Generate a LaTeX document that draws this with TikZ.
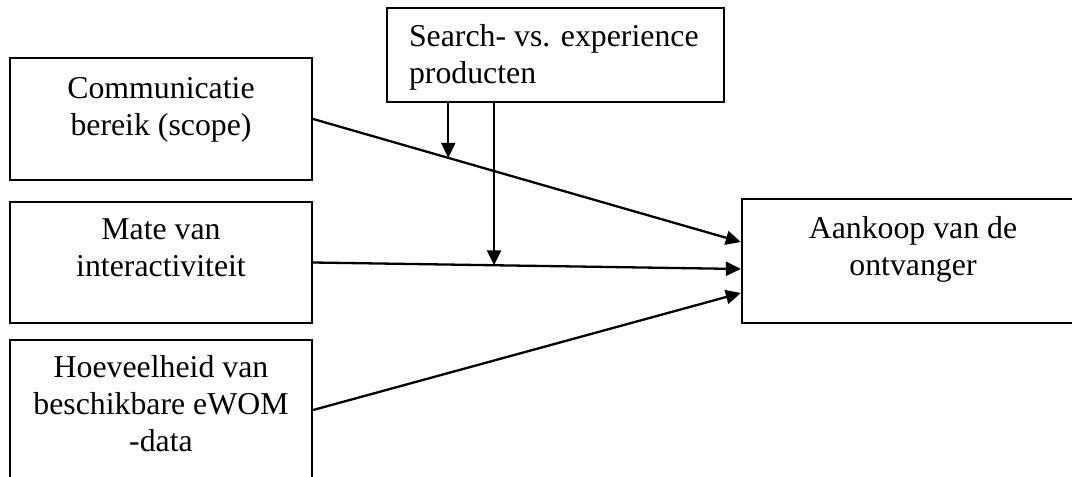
\documentclass[tikz,border=0pt]{standalone}
\usepackage{fontspec}
\setmainfont{Liberation Serif}
\usetikzlibrary{arrows.meta,calc}
\begin{document}
\begin{tikzpicture}[x=1pt,y=-1pt,
  box/.style={draw,line width=2.3pt,inner sep=0pt},
  lbl/.style={inner sep=0pt,font=\fontsize{31.8}{37}\selectfont},
  conn/.style={line width=2.3pt,-{Triangle[length=15pt,width=14pt]}}]
\useasboundingbox (0,0) rectangle (1072,477);
\clip (0,0) rectangle (1072,477);

% boxes
\node[box,minimum width=302pt,minimum height=122pt] (com) at (161,119) {};
\node[box,minimum width=302pt,minimum height=121pt] (mate) at (161,262.5) {};
\node[box,minimum width=302pt,minimum height=140pt] (hoev) at (161,410) {};
\node[box,minimum width=337pt,minimum height=94pt] (search) at (555.5,55) {};
\node[box,minimum width=342pt,minimum height=124pt] (aank) at (913,261) {};

% texts (anchored at the baseline of their last line)
\node[lbl,align=center,anchor=base] (tcom) at ($(com.north)+(0,79)$) {Communicatie\\bereik (scope)};
\node[lbl,align=center,anchor=base] (tmate) at ($(mate.north)+(0,76)$) {Mate van\\interactiviteit};
\node[lbl,align=center,anchor=base] (thoev) at ($(hoev.north)+(0,113)$) {Hoeveelheid van\\beschikbare eWOM\\-data};
\node[lbl,align=left,anchor=base west] (tsearch) at ($(search.north west)+(23,77)$) {Search- vs. experience\\producten};
\node[lbl,align=center,anchor=base] (taank) at ($(aank.north)+(0,78)$) {Aankoop van de\\ontvanger};

% end points on the outcome box
\coordinate (t1) at ($(aank.west)+(0,-19)$);
\coordinate (t2) at ($(aank.west)+(0,8)$);
\coordinate (t3) at ($(aank.west)+(0,32)$);

% main effects
\draw[conn] (com.east) -- coordinate[pos=0.316] (m1) (t1);
\draw[conn] (mate.east) -- coordinate[pos=0.423] (m2) (t2);
\draw[conn] (hoev.east) -- (t3);

% moderation
\draw[conn] (search.south -| m1) -- (m1);
\draw[conn] (search.south -| m2) -- (m2);
\end{tikzpicture}
\end{document}
